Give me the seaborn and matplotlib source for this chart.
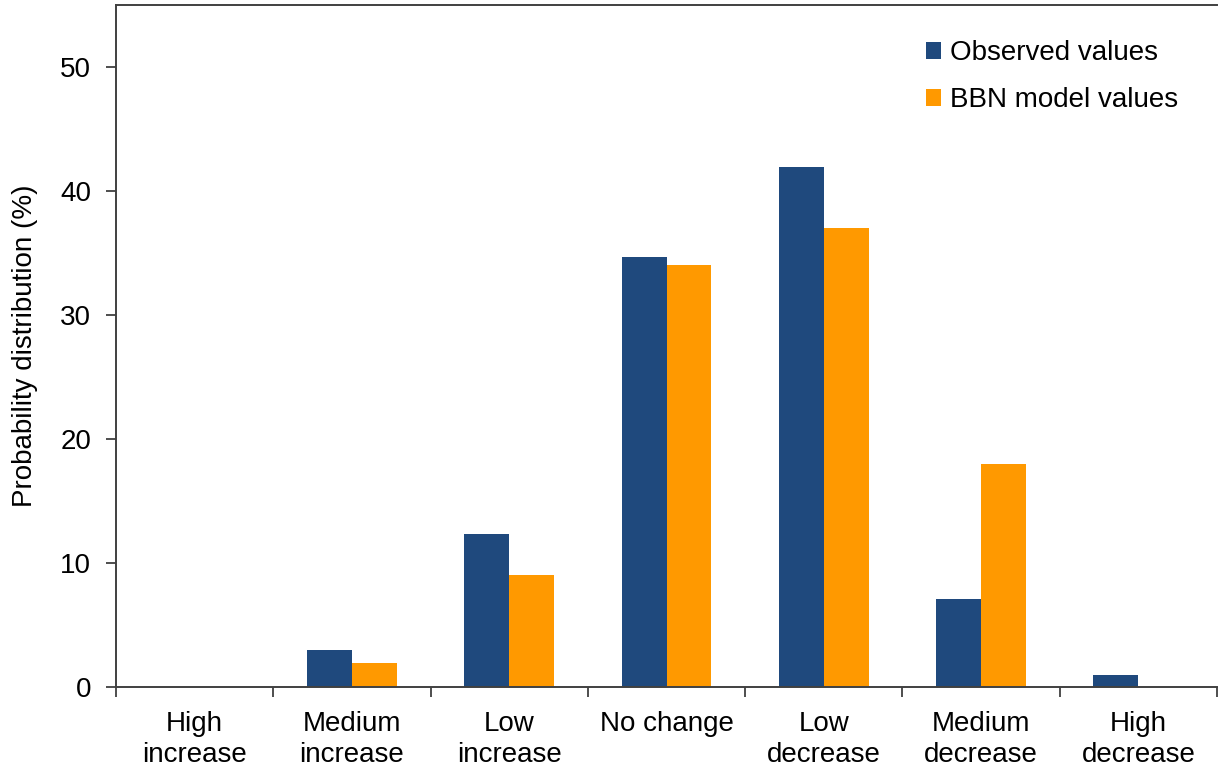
import matplotlib
matplotlib.use("Agg")
import matplotlib.pyplot as plt
import seaborn as sns
import pandas as pd
import numpy as np

categories = ["High\nincrease", "Medium\nincrease", "Low\nincrease", "No change",
              "Low\ndecrease", "Medium\ndecrease", "High\ndecrease"]
observed = [0, 3.0, 12.3, 34.7, 41.9, 7.1, 1.0]
bbn_model = [0, 1.9, 9.0, 34.0, 37.0, 18.0, 0]
series_names = ["Observed values", "BBN model values"]
colors = ["#1F497D", "#FF9900"]

sns.set_theme(style="white")
plt.rcParams['font.family'] = ['Liberation Sans', 'DejaVu Sans']

df = pd.DataFrame({
    "category": categories * 2,
    "value": observed + bbn_model,
    "series": [series_names[0]] * len(categories) + [series_names[1]] * len(categories),
})

fig = plt.figure(figsize=(12.18, 7.71), dpi=100)
ax = fig.add_axes([116 / 1218, 1 - 687 / 771, (1217 - 116) / 1218, (687 - 5) / 771])
sns.barplot(data=df, x="category", y="value", hue="series", order=categories,
            hue_order=series_names, palette=colors, width=0.572, ax=ax,
            edgecolor="none", linewidth=0, saturation=1)

FS = 20
ax.set_ylim(0, 55)
ax.set_xlim(-0.5, 6.5)
ax.set_yticks([0, 10, 20, 30, 40, 50])
ax.set_yticklabels(["0", "10", "20", "30", "40", "50"], fontsize=FS, color="#000000")
ax.set_xticks(range(len(categories)))
ax.set_xticklabels(categories, fontsize=FS, color="#000000", linespacing=1.28)
ax.set_xticks(np.arange(-0.5, 7.0, 1.0), minor=True)
ax.tick_params(axis="x", which="major", length=0, pad=17)
ax.tick_params(axis="x", which="minor", length=7, width=1.3, color="#404040", direction="out", bottom=True)
ax.tick_params(axis="y", which="major", length=7, width=1.3, color="#404040", direction="out", left=True, pad=11)
ax.set_xlabel("")
ax.set_ylabel("Probability distribution (%)", fontsize=FS, color="#000000", labelpad=16)

for side in ["left", "bottom", "top"]:
    ax.spines[side].set_visible(True)
    ax.spines[side].set_color("#404040")
    ax.spines[side].set_linewidth(1.4)
ax.spines["right"].set_visible(False)

leg = ax.legend(loc="upper left", bbox_to_anchor=(926 / 1218, 1 - 40 / 771),
                bbox_transform=fig.transFigure, frameon=False, borderpad=0, borderaxespad=0,
                fontsize=FS, handlelength=0.55, handleheight=0.55, handletextpad=0.3,
                labelspacing=0.76)
for t in leg.get_texts():
    t.set_color("#000000")

fig.savefig("out.png", dpi=100)
